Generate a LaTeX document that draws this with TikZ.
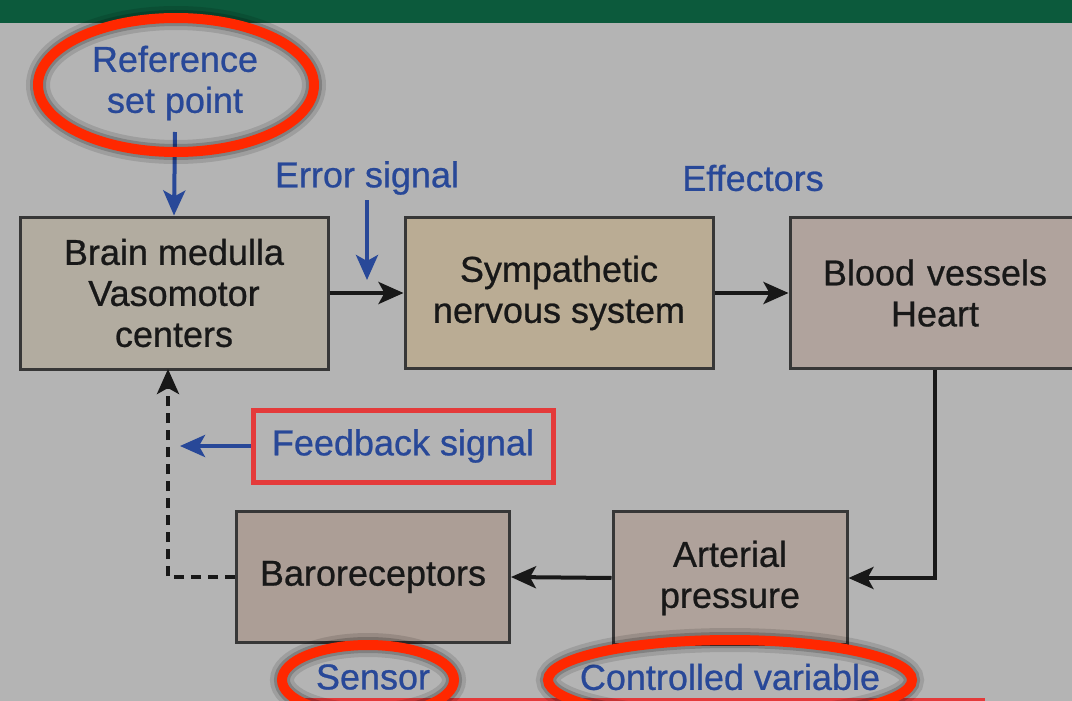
\documentclass[tikz,border=0pt]{standalone}
\usepackage{fontspec}
\setmainfont{Liberation Sans}[FakeBold=0.7]
\usetikzlibrary{arrows.meta}
\definecolor{bggrey}{RGB}{180,180,180}
\definecolor{bandgreen}{RGB}{12,90,60}
\definecolor{txtblack}{RGB}{24,24,24}
\definecolor{txtblue}{RGB}{40,72,152}
\definecolor{boxline}{RGB}{55,55,55}
\definecolor{fillbrain}{RGB}{178,172,160}
\definecolor{fillsymp}{RGB}{186,172,148}
\definecolor{fillblood}{RGB}{176,163,157}
\definecolor{fillbaro}{RGB}{172,158,150}
\definecolor{fillart}{RGB}{175,162,155}
\definecolor{markred}{RGB}{255,40,0}
\definecolor{rectred}{RGB}{228,58,58}
\tikzset{
  blockbox/.style={draw=boxline, line width=3pt, align=center, text=txtblack,
    inner sep=0pt, font=\fontsize{36}{41}\selectfont},
  bluelabel/.style={text=txtblue, align=center, inner sep=0pt,
    font=\fontsize{36}{41}\selectfont},
  blackarrow/.style={draw=txtblack, line width=4pt,
    -{Stealth[length=25pt,width=22pt,inset=6pt]}},
  bluearrow/.style={draw=txtblue, line width=4pt,
    -{Stealth[length=25pt,width=22pt,inset=6pt]}},
  dashedarrow/.style={draw=txtblack, line width=4pt, dash pattern=on 10pt off 7pt,
    -{Stealth[length=25pt,width=22pt,inset=6pt]}},
  markshadowa/.style={draw=black, opacity=0.12, line width=24pt},
  markshadowb/.style={draw=black, opacity=0.18, line width=16pt},
  markring/.style={draw=markred, line width=10pt}
}
\begin{document}
\begin{tikzpicture}[x=1pt,y=-1pt]
\useasboundingbox (0,0) rectangle (1072,701);
\fill[bggrey] (0,0) rectangle (1072,701);
\fill[bandgreen] (0,0) rectangle (1072,23);

% blocks
\node[blockbox, fill=fillbrain, minimum width=308pt, minimum height=152pt] (brain) at (174,293) {Brain medulla\\Vasomotor\\centers};
\node[blockbox, fill=fillsymp, minimum width=308pt, minimum height=151pt] (symp) at (559,293) {Sympathetic\\nervous system};
\node[blockbox, fill=fillblood, minimum width=290pt, minimum height=151pt, text width=290pt] (blood) at (935,293) {Blood vessels\\Heart};
\node[blockbox, fill=fillart, minimum width=234pt, minimum height=133pt] (art) at (730,578) {Arterial\\pressure};
\node[blockbox, fill=fillbaro, minimum width=273pt, minimum height=131pt] (baro) at (373,577) {Baroreceptors};

% labels
\node[bluelabel] (ref) at (175,83) {Reference\\set point};
\node[bluelabel] (err) at (367,178) {Error signal};
\node[bluelabel] (eff) at (753,178) {Effectors};
\node[bluelabel, draw=rectred, line width=5pt, minimum width=300pt, minimum height=72pt] (fb) at (403,446) {Feedback signal};
\node[bluelabel] (sens) at (373,677) {Sensor};
\node[bluelabel] (cv) at (730,677) {Controlled variable};

% free ends
\coordinate (refstart) at (175,132);
\coordinate (errstart) at (367,200);
\coordinate (errend) at (367,280);
\coordinate (fbend) at (180,446);
\coordinate (dashtop) at (168,369);
\coordinate (dashcorner) at (168,577);

% connectors
\draw[blackarrow] (brain.east) -- (symp.west);
\draw[blackarrow] (symp.east) -- (blood.west);
\draw[blackarrow] (blood.south) |- (art.east);
\draw[blackarrow] (art.west) -- (baro.east);
\draw[dashedarrow] (baro.west) -- (dashcorner) -- (dashtop);
\draw[bluearrow] (refstart) -- (brain.north);
\draw[bluearrow] (errstart) -- (errend);
\draw[bluearrow] (fb.west) -- (fbend);

% red bottom line
\draw[rectred, line width=2.5pt] (290,699.5) -- (985,699.5);

% highlight ellipses
\foreach \cx/\cy/\rx/\ry in {176/85/138/67, 368/680/86/35, 730/680/182/40}{
  \draw[markshadowa] (\cx,\cy) ellipse [x radius=\rx, y radius=\ry];
  \draw[markshadowb] (\cx,\cy) ellipse [x radius=\rx, y radius=\ry];
  \draw[markring] (\cx,\cy) ellipse [x radius=\rx, y radius=\ry];
}
\end{tikzpicture}
\end{document}
